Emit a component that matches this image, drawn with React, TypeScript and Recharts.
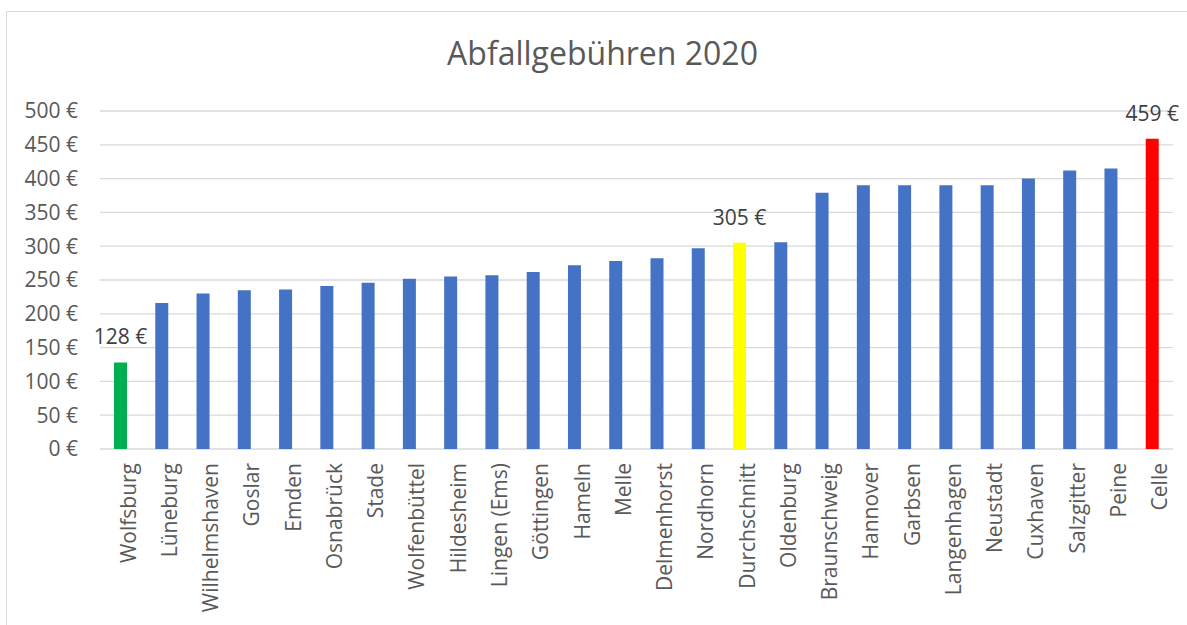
import { BarChart, Bar, XAxis, YAxis, CartesianGrid, Cell } from "recharts";

const cities = [
  "Wolfsburg", "Lüneburg", "Wilhelmshaven", "Goslar", "Emden", "Osnabrück", "Stade",
  "Wolfenbüttel", "Hildesheim", "Lingen (Ems)", "Göttingen", "Hameln", "Melle",
  "Delmenhorst", "Nordhorn", "Durchschnitt", "Oldenburg", "Braunschweig", "Hannover",
  "Garbsen", "Langenhagen", "Neustadt", "Cuxhaven", "Salzgitter", "Peine", "Celle",
];

const fees = [
  128, 216, 230, 235, 236, 241, 246, 252, 255, 257, 262, 272, 278,
  282, 297, 305, 306, 379, 390, 390, 390, 390, 400, 412, 415, 459,
];

const yTicks = [0, 50, 100, 150, 200, 250, 300, 350, 400, 450, 500];

// bars that get a special colour and a value label
const highlight: Record<string, string> = {
  Wolfsburg: "#00B050",
  Durchschnitt: "#FFFF00",
  Celle: "#FF0000",
};

const data = cities.map((name, i) => ({ name, fee: fees[i] }));

const FONT = "'Open Sans', sans-serif";

const renderLabel = (props: any) => {
  const { x, y, width, value, index } = props;
  if (!highlight[cities[index]]) return null;
  return (
    <text
      x={x + width / 2}
      y={y - 18}
      textAnchor="middle"
      fill="#404040"
      fontSize={21}
      fontFamily={FONT}
    >
      {`${value} €`}
    </text>
  );
};

export default function App() {
  return (
    <div style={{ position: "absolute", left: 0, top: 0, width: 1187, height: 625, background: "#fff" }}>
      <div
        style={{
          position: "absolute",
          left: 6,
          top: 11,
          width: 1190,
          height: 620,
          borderLeft: "1.5px solid #d9d9d9",
          borderTop: "1.5px solid #d9d9d9",
        }}
      />
      <div
        style={{
          position: "absolute",
          left: 0,
          top: 37,
          width: 1205,
          textAlign: "center",
          fontFamily: FONT,
          fontSize: 32,
          lineHeight: "32px",
          color: "#595959",
        }}
      >
        Abfallgebühren 2020
      </div>
      <div style={{ position: "absolute", left: 0, top: 0 }}>
        <BarChart
          width={1187}
          height={625}
          data={data}
          margin={{ top: 111, right: 14, bottom: 0, left: 0 }}
          barSize={13}
        >
          <CartesianGrid vertical={false} stroke="#d9d9d9" strokeWidth={1.3} />
          <XAxis
            dataKey="name"
            interval={0}
            angle={-90}
            textAnchor="end"
            height={176}
            axisLine={false}
            tickLine={false}
            tickSize={0}
            tickMargin={14}
            tick={{ fill: "#595959", fontSize: 21, fontFamily: FONT }}
          />
          <YAxis
            domain={[0, 500]}
            ticks={yTicks}
            width={100}
            axisLine={false}
            tickLine={false}
            tickSize={0}
            tickMargin={22}
            tickFormatter={(v) => `${v} €`}
            tick={{ fill: "#595959", fontSize: 21, fontFamily: FONT }}
          />
          <Bar dataKey="fee" isAnimationActive={false} label={renderLabel}>
            {data.map((d) => (
              <Cell key={d.name} fill={highlight[d.name] || "#4472C4"} />
            ))}
          </Bar>
        </BarChart>
      </div>
    </div>
  );
}
